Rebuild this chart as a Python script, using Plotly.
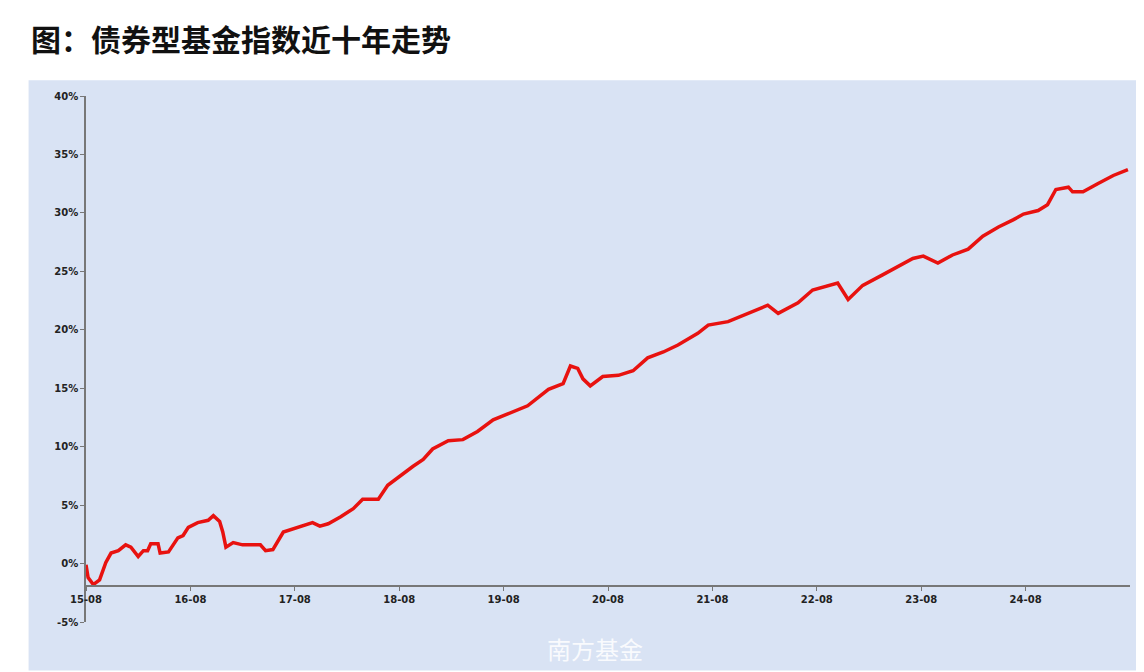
import plotly.graph_objects as go

# years since 2015-08
years = [0, 0.02, 0.07, 0.13, 0.19, 0.24, 0.31, 0.38, 0.43, 0.50, 0.55, 0.59, 0.62, 0.69, 0.71,
         0.79, 0.88, 0.93, 0.98, 1.07, 1.17, 1.22, 1.28, 1.31, 1.34, 1.41, 1.50, 1.60, 1.67, 1.72,
         1.79, 1.89, 2.03, 2.17, 2.24, 2.32, 2.44, 2.56, 2.65, 2.80, 2.89, 2.99, 3.13, 3.23, 3.32,
         3.47, 3.61, 3.75, 3.90, 4.04, 4.23, 4.43, 4.57, 4.64, 4.71, 4.76, 4.83, 4.95, 5.10, 5.24,
         5.38, 5.53, 5.67, 5.86, 5.96, 6.15, 6.29, 6.44, 6.53, 6.63, 6.82, 6.96, 7.20, 7.30, 7.44,
         7.63, 7.78, 7.92, 8.02, 8.16, 8.30, 8.45, 8.59, 8.74, 8.88, 8.98, 9.12, 9.21, 9.29, 9.41,
         9.45, 9.55, 9.69, 9.84, 9.98]
returns = [-0.1, -1.2, -1.8, -1.4, 0.1, 0.9, 1.1, 1.6, 1.4, 0.6, 1.1, 1.1, 1.7, 1.7, 0.9,
           1.0, 2.2, 2.4, 3.1, 3.5, 3.7, 4.1, 3.6, 2.7, 1.4, 1.8, 1.6, 1.6, 1.6, 1.1,
           1.2, 2.7, 3.1, 3.5, 3.2, 3.4, 4.0, 4.7, 5.5, 5.5, 6.7, 7.4, 8.3, 8.9, 9.8,
           10.5, 10.6, 11.3, 12.3, 12.8, 13.5, 14.9, 15.4, 16.9, 16.7, 15.8, 15.2, 16.0, 16.1, 16.5,
           17.6, 18.1, 18.7, 19.7, 20.4, 20.7, 21.2, 21.7, 22.1, 21.4, 22.3, 23.4, 24.0, 22.6, 23.8,
           24.7, 25.4, 26.1, 26.3, 25.7, 26.4, 26.9, 28.0, 28.8, 29.4, 29.9, 30.2, 30.7, 32.0, 32.2,
           31.8, 31.8, 32.5, 33.2, 33.7]

x_ticks = [0, 1, 2, 3, 4, 5, 6, 7, 8, 9]
x_labels = ['<b>15-08</b>', '<b>16-08</b>', '<b>17-08</b>', '<b>18-08</b>', '<b>19-08</b>',
            '<b>20-08</b>', '<b>21-08</b>', '<b>22-08</b>', '<b>23-08</b>', '<b>24-08</b>']
y_ticks = [-5, 0, 5, 10, 15, 20, 25, 30, 35, 40]
y_labels = [f'<b>{v}%</b>' for v in y_ticks]

panel = '#d9e3f4'
tick_font = dict(family='DejaVu Sans', size=10, color='#222')

fig = go.Figure(go.Scatter(x=years, y=returns, mode='lines',
                           line=dict(color='#e8120f', width=3.5)))

fig.update_layout(
    width=1144, height=672,
    margin=dict(l=78, r=22, t=88, b=58),
    paper_bgcolor='white', plot_bgcolor=panel,
    showlegend=False,
    xaxis=dict(range=[0, 10], tickvals=x_ticks, ticktext=x_labels, showgrid=False,
               zeroline=False, showline=True, linecolor='#777', linewidth=1.5,
               ticks='outside', ticklen=4, tickcolor='#777', tickfont=tick_font,
               anchor='free', position=3.1 / 45),
    yaxis=dict(range=[-5, 40], tickvals=y_ticks, ticktext=y_labels, showgrid=False,
               zeroline=False, showline=True, linecolor='#777', linewidth=1.5,
               ticks='outside', ticklen=4, tickcolor='#777', tickfont=tick_font),
    shapes=[dict(type='rect', xref='paper', yref='paper', x0=-0.055, x1=1.017,
                 y0=-0.092, y1=1.03, fillcolor=panel, line_width=0, layer='below')],
    annotations=[
        dict(text='<b>图：债券型基金指数近十年走势</b>', xref='paper', yref='paper',
             x=-0.055, y=1.11, xanchor='left', yanchor='middle', showarrow=False,
             font=dict(family='Noto Sans CJK SC', size=30, color='#111')),
        dict(text='南方基金', xref='paper', yref='paper', x=0.44, y=-0.05,
             xanchor='left', yanchor='middle', showarrow=False,
             font=dict(family='Noto Sans CJK SC', size=24, color='rgba(255,255,255,0.85)')),
    ],
)

fig.write_html('out.html')
